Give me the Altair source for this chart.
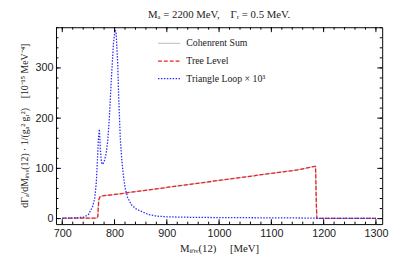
import altair as alt
import pandas as pd

# ---- data ----
series_names = ["Cohenrent Sum", "Tree Level", "Triangle Loop × 10³"]

tree_x = [700, 740, 766, 768, 769, 770, 772, 776, 800, 900, 1000, 1100, 1150, 1183, 1184.5, 1186, 1187, 1300]
tree_y = [1, 1, 1, 4, 25, 38, 43, 45, 48, 62, 76, 90, 97, 104, 104, 30, 0.5, 0.5]

coh_x = [700, 740, 766, 768, 769, 770, 772, 776, 800, 900, 1000, 1100, 1150, 1183, 1184.5, 1186, 1187, 1300]
coh_y = [1, 1, 1, 4, 25, 38, 43, 45, 48, 62, 76, 90, 97, 104, 104, 30, 0.5, 0.5]

tri_x = [700, 720, 742, 750, 758, 762, 765, 767, 769, 771, 773, 775, 777, 780, 784, 787,
         790, 794, 798, 801, 803, 806, 808, 811, 814, 817, 820, 825, 832, 840, 850, 865,
         880, 900, 950, 1000, 1100, 1185, 1188, 1300]
tri_y = [0.5, 1, 3, 8, 24, 40, 70, 110, 157, 178, 135, 112, 108, 113, 130, 155,
         200, 280, 350, 376, 370, 310, 240, 160, 115, 85, 62, 42, 28, 20, 15, 8,
         5, 3.5, 2.5, 2, 1.5, 1, 0.3, 0.3]

x_major = [700, 800, 900, 1000, 1100, 1200, 1300]
x_minor = list(range(700, 1301, 20))
y_major = [0, 100, 200, 300]
y_minor = list(range(0, 381, 20))

X_DOMAIN = [688, 1312]
Y_DOMAIN = [-11, 381]
W, H = 333, 201

NB = "\u00a0"

rows = []
for name, xs_, ys_ in [(series_names[0], coh_x, coh_y),
                       (series_names[1], tree_x, tree_y),
                       (series_names[2], tri_x, tri_y)]:
    for i, (a, b) in enumerate(zip(xs_, ys_)):
        rows.append({"m": a, "v": b, "s": name, "i": i})
df = pd.DataFrame(rows)

xs = alt.Scale(domain=X_DOMAIN, nice=False, zero=False)
ys = alt.Scale(domain=Y_DOMAIN, nice=False, zero=False)

serif = "Liberation Serif"
sans = "Liberation Sans"

leg = dict(title=None, orient="none", legendX=103, legendY=4,
           symbolType="stroke", symbolSize=520, symbolStrokeWidth=1.3,
           labelFont=serif, labelFontSize=10, labelColor="#222",
           labelOffset=5, rowPadding=0)

lines = alt.Chart(df).mark_line(strokeWidth=1.3, clip=True).encode(
    x=alt.X("m:Q", scale=xs, axis=alt.Axis(
        values=x_major, format="d", ticks=False, domain=False, grid=False, labelPadding=4,
        labelFont=sans, labelFontSize=11, labelColor="#222",
        title="Mᵢₙᵥ(12)" + NB * 5 + "[MeV]", titleFont=serif, titleFontSize=11,
        titleFontWeight="normal", titleColor="#222", titlePadding=4)),
    y=alt.Y("v:Q", scale=ys, axis=alt.Axis(
        values=y_major, format="d", ticks=False, domain=False, grid=False, labelPadding=3,
        labelFont=sans, labelFontSize=11, labelColor="#222",
        title="dΓₐ/dMᵢₙᵥ(12) · 1/(gₐ² gᵣ²)" + NB * 4 + "[10⁻¹⁵ MeV⁻⁴]",
        titleFont=serif, titleFontSize=10, titleFontWeight="normal", titleColor="#222",
        titleX=-32, titleY=100, titleAngle=270, titleAlign="center",
        titleBaseline="middle")),
    color=alt.Color("s:N", scale=alt.Scale(domain=series_names,
                                           range=["#c8c8c8", "#f22020", "#2a2aff"]),
                    legend=alt.Legend(**leg)),
    strokeDash=alt.StrokeDash("s:N", scale=alt.Scale(domain=series_names,
                                                     range=[[1, 0], [4, 2], [1.5, 1.5]]),
                              legend=alt.Legend(**leg)),
    order="i:Q",
)

def xticks(vals, length):
    d = pd.DataFrame({"t": vals})
    bot = alt.Chart(d).mark_rule(color="black", strokeWidth=1).encode(
        x=alt.X("t:Q", scale=xs), y=alt.value(H), y2=alt.value(H - length))
    top = alt.Chart(d).mark_rule(color="black", strokeWidth=1).encode(
        x=alt.X("t:Q", scale=xs), y=alt.value(0), y2=alt.value(length))
    return [bot, top]

def yticks(vals, length):
    d = pd.DataFrame({"t": vals})
    left = alt.Chart(d).mark_rule(color="black", strokeWidth=1).encode(
        y=alt.Y("t:Q", scale=ys), x=alt.value(0), x2=alt.value(length))
    right = alt.Chart(d).mark_rule(color="black", strokeWidth=1).encode(
        y=alt.Y("t:Q", scale=ys), x=alt.value(W), x2=alt.value(W - length))
    return [left, right]

layers = [lines] + xticks(x_minor, 2.5) + xticks(x_major, 5) + yticks(y_minor, 2.5) + yticks(y_major, 5)

chart = alt.layer(*layers).properties(
    width=W, height=H,
    autosize=alt.AutoSizeParams(type="none"),
    padding={"left": 49, "top": 17, "right": 9, "bottom": 34},
    title=alt.TitleParams("Mₐ = 2200 MeV," + NB * 4 + "Γᵣ = 0.5 MeV.", font=serif, fontSize=11,
                          fontWeight="normal", color="#222", anchor="middle", offset=7),
).configure_view(stroke="black", strokeWidth=1)

chart.save("out.html", embed_options={"renderer": "svg", "actions": False})
